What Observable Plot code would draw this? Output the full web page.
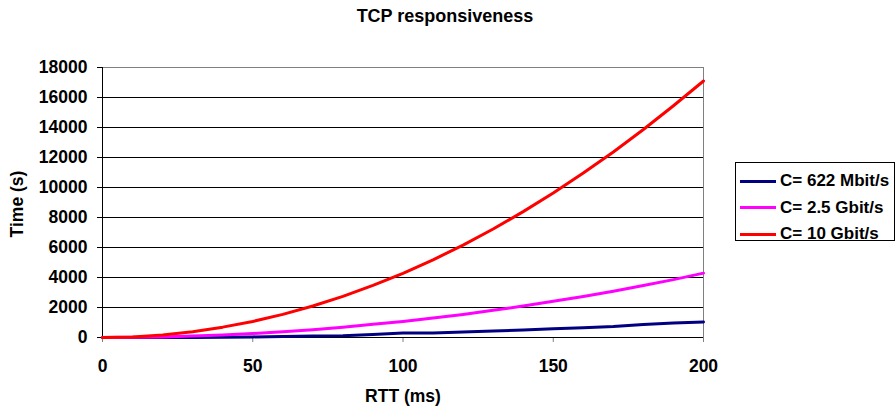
<!DOCTYPE html>
<html><head><meta charset="utf-8">
<script src="https://cdn.jsdelivr.net/npm/d3@7"></script>
<script src="https://cdn.jsdelivr.net/npm/@observablehq/plot@0.6"></script>
<style>
body{margin:0;background:#fff;}
#wrap{position:relative;width:896px;height:407px;font-family:"Liberation Sans",Arial,sans-serif;font-weight:bold;color:#000;}
#wrap svg{position:absolute;left:0;top:0;}
.lbl{position:absolute;white-space:nowrap;line-height:1;}
#title{left:0;width:890px;text-align:center;top:7px;font-size:18px;}
#xlab{left:0;width:806px;text-align:center;top:388px;font-size:17.5px;}
#ylab{left:18px;top:204px;font-size:17.5px;transform:translate(-50%,-50%) rotate(-90deg);}
#legend{position:absolute;left:735px;top:162px;width:160px;height:79px;border:1px solid #000;box-sizing:border-box;font-size:17px;padding-top:5px;white-space:nowrap;overflow:visible;}
.row{display:flex;align-items:center;height:26.5px;white-space:nowrap;}
.sw{display:inline-block;flex:none;width:36px;height:3px;margin-left:4px;margin-right:4px;}
.tx{flex:none;white-space:nowrap;}
</style></head><body><div id="wrap"></div>
<script>
const rtt = [0,10,20,30,40,50,60,70,80,90,100,110,120,130,140,150,160,170,180,190,200];
const c622 = [0,0,0,0,20,40,60,100,120,200,300,300,360,430,500,580,650,730,860,960,1030];
const c2_5 = [0,10,40,100,170,270,380,520,690,880,1070,1300,1540,1810,2100,2410,2740,3090,3470,3860,4290];
const c10 = [0,40,170,390,690,1070,1540,2100,2740,3470,4280,5180,6160,7230,8390,9630,10960,12370,13870,15450,17100];
const seriesNames = ["C= 622 Mbit/s","C= 2.5 Gbit/s","C= 10 Gbit/s"];
const seriesColors = ["#000080","#FF00FF","#FF0000"];
const yTicks = [0,2000,4000,6000,8000,10000,12000,14000,16000,18000];
const xTicks = [0,50,100,150,200];
const titleText = "TCP responsiveness";
const xLabel = "RTT (ms)";
const yLabel = "Time (s)";

const seriesValues = [c622, c2_5, c10];
const data = [];
seriesNames.forEach((name, i) => {
  rtt.forEach((r, j) => data.push({rtt: r, time: seriesValues[i][j], series: name}));
});

const wrap = document.getElementById("wrap");
const chart = Plot.plot({
  width: 896,
  height: 407,
  marginLeft: 102,
  marginRight: 193,
  marginTop: 67,
  marginBottom: 70,
  style: {fontFamily: '"Liberation Sans", Arial, sans-serif', fontSize: "17.5px", fontWeight: "bold", background: "white", overflow: "visible"},
  x: {domain: [0, 200]},
  y: {domain: [0, 18000]},
  color: {domain: seriesNames, range: seriesColors},
  marks: [
    Plot.ruleY(yTicks.filter(d => d > 0 && d < 18000), {stroke: "#000", strokeWidth: 1}),
    Plot.ruleY([18000], {stroke: "#808080", strokeWidth: 1}),
    Plot.ruleX([200], {stroke: "#808080", strokeWidth: 1}),
    Plot.axisY({ticks: yTicks, tickSize: 5, tickPadding: 10, label: null, tickFormat: d => String(d), stroke: "#000", fill: "#000"}),
    Plot.axisX({ticks: xTicks, tickSize: 5, tickPadding: 17, label: null, tickFormat: d => String(d), stroke: "#808080", fill: "#000"}),
    Plot.ruleX([0], {stroke: "#000", strokeWidth: 1}),
    Plot.ruleY([0], {stroke: "#000", strokeWidth: 1}),
    Plot.line(data, {x: "rtt", y: "time", z: "series", stroke: "series", strokeWidth: 3, strokeLinejoin: "round", strokeLinecap: "round"})
  ]
});
wrap.appendChild(chart);

const t = document.createElement("div"); t.id = "title"; t.className = "lbl"; t.textContent = titleText; wrap.appendChild(t);
const xl = document.createElement("div"); xl.id = "xlab"; xl.className = "lbl"; xl.textContent = xLabel; wrap.appendChild(xl);
const yl = document.createElement("div"); yl.id = "ylab"; yl.className = "lbl"; yl.textContent = yLabel; wrap.appendChild(yl);
const lg = document.createElement("div"); lg.id = "legend";
seriesNames.forEach((name, i) => {
  const row = document.createElement("div"); row.className = "row";
  const sw = document.createElement("span"); sw.className = "sw"; sw.style.background = seriesColors[i];
  const tx = document.createElement("span"); tx.className = "tx"; tx.textContent = name;
  row.appendChild(sw); row.appendChild(tx); lg.appendChild(row);
});
wrap.appendChild(lg);
</script></body></html>
